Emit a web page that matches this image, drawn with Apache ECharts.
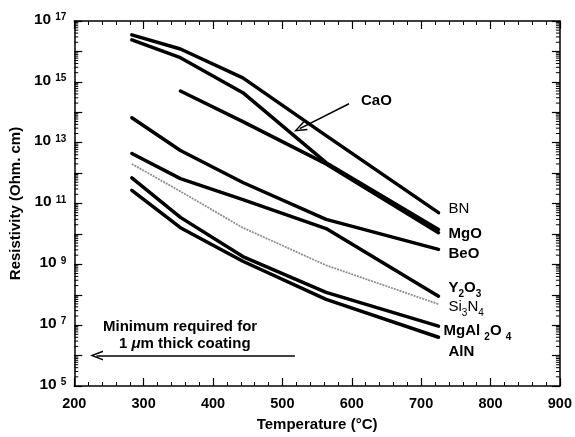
<!DOCTYPE html>
<html>
<head>
<meta charset="utf-8">
<script src="https://cdn.jsdelivr.net/npm/echarts@6/dist/echarts.min.js"></script>
<style>
    html, body { margin: 0; padding: 0; background: #fff; }
    #main { width: 575px; height: 437px; }
</style>
</head>
<body>
<div id="main"></div>
<script>
    // temperatures (°C) where the curves bend
    var temps = [283, 353, 443, 563, 725];

    // resistivity (Ohm.cm)
    var bn      = [3.5e16, 1.2e16, 1.35e15, 1.7e13, 5.0e10];
    var cao     = [2.4e16, 6.2e15, 4.4e14, 2.2e12, 1.4e10];
    var mgo     = [null, 5.0e14, 4.9e13, 2.0e12, 1.1e10];
    var beo     = [6.6e13, 5.5e12, 4.9e11, 3.0e10, 3.1e9];
    var y2o3    = [4.4e12, 6.6e11, 1.35e11, 1.5e10, 9.0e7];
    var si3n4   = [2.0e12, 2.5e11, 1.6e10, 9.3e8, 4.9e7];
    var mgal2o4 = [7.0e11, 3.5e10, 1.8e9, 1.2e8, 9.3e6];
    var aln     = [2.7e11, 1.6e10, 1.26e9, 7.0e7, 4.0e6];

    // annotation arrows [from, to] in data units
    var caoArrow = [[596, 1.9e14], [525, 2.9e13]];
    var minArrow = [[518, 1e6], [232, 1e6]];

    var xMin = 200, xMax = 900;
    var yMin = 1e5, yMax = 1e17;

    var font = "'Liberation Sans', Arial, sans-serif";

    function pairs(vals) {
        var out = [];
        for (var i = 0; i < temps.length; i++) {
            if (vals[i] != null) out.push([temps[i], vals[i]]);
        }
        return out;
    }

    // minor log ticks 2..9 in every decade
    var minorTicks = [];
    for (var e = 5; e < 17; e++) {
        for (var k = 2; k < 10; k++) {
            minorTicks.push([xMin, k * Math.pow(10, e)]);
        }
    }

    var chevron = 'path://M5,0 L10,13 L8.4,13 L5,3.8 L1.6,13 L0,13 Z';

    var subRich = {
        b: { fontFamily: font, fontSize: 15, fontWeight: 'bold', color: '#000', lineHeight: 16, verticalAlign: 'top' },
        bs: { fontFamily: font, fontSize: 10, fontWeight: 'bold', color: '#000', lineHeight: 10, verticalAlign: 'top', padding: [9, 0, 0, 0] },
        n: { fontFamily: font, fontSize: 15, color: '#000', lineHeight: 16, verticalAlign: 'top' },
        ns: { fontFamily: font, fontSize: 10, color: '#000', lineHeight: 10, verticalAlign: 'top', padding: [9, 0, 0, 0] }
    };

    function lineSeries(name, vals, label, offset, dist, style) {
        return {
            name: name,
            type: 'line',
            data: pairs(vals),
            symbol: 'none',
            silent: true,
            lineStyle: style || { color: '#000', width: 3.5, cap: 'round', join: 'round' },
            endLabel: {
                show: !!label,
                formatter: label || '',
                distance: dist,
                offset: offset,
                rich: subRich
            },
            z: 3
        };
    }

    var axisLine = { show: true, lineStyle: { color: '#000', width: 1.5 } };

    var option = {
        animation: false,
        backgroundColor: '#fff',
        grid: { left: 72, right: 8, top: 21, bottom: 50 },
        xAxis: [{
            type: 'value', position: 'bottom',
            min: xMin, max: xMax, interval: 100,
            name: 'Temperature (°C)', nameLocation: 'middle', nameGap: 31,
            nameTextStyle: { fontFamily: font, fontSize: 15, fontWeight: 'bold', color: '#000' },
            axisLine: axisLine,
            axisTick: { inside: true, length: 8, lineStyle: { color: '#000', width: 1.2 } },
            minorTick: { show: true, splitNumber: 5, length: 4, lineStyle: { color: '#000', width: 1 } },
            axisLabel: { margin: 10, fontFamily: font, fontSize: 14.5, fontWeight: 'bold', color: '#000', showMaxLabel: true },
            splitLine: { show: false }
        }, {
            type: 'value', position: 'top',
            min: xMin, max: xMax, interval: 100,
            axisLine: axisLine,
            axisTick: { inside: true, length: 8, lineStyle: { color: '#000', width: 1.2 } },
            minorTick: { show: true, splitNumber: 5, length: 4, lineStyle: { color: '#000', width: 1 } },
            axisLabel: { show: false },
            splitLine: { show: false }
        }],
        yAxis: [{
            type: 'log', logBase: 10, position: 'left',
            min: yMin, max: yMax, interval: 1,
            name: 'Resistivity (Ohm. cm)', nameLocation: 'middle', nameGap: 47,
            nameTextStyle: { fontFamily: font, fontSize: 15, fontWeight: 'bold', color: '#000' },
            axisLine: axisLine,
            axisTick: { inside: true, length: 8, lineStyle: { color: '#000', width: 1.2 } },
            axisLabel: {
                margin: 8,
                verticalAlign: 'middle',
                padding: [0, 0, 4, 0],
                formatter: function(v) {
                    var p = Math.round(Math.log(v) / Math.LN10);
                    if (p % 2 === 0) return '';
                    return '{b|10}{s|' + p + '}';
                },
                rich: {
                    b: { fontFamily: font, fontSize: 15.5, fontWeight: 'bold', color: '#000', lineHeight: 15, verticalAlign: 'top' },
                    s: { fontFamily: font, fontSize: 10, fontWeight: 'bold', color: '#000', lineHeight: 10, verticalAlign: 'top', padding: [1, 0, 0, 4] }
                }
            },
            splitLine: { show: false }
        }, {
            type: 'log', logBase: 10, position: 'right',
            min: yMin, max: yMax, interval: 1,
            axisLine: axisLine,
            axisTick: { inside: true, length: 8, lineStyle: { color: '#000', width: 1.2 } },
            axisLabel: { show: false },
            splitLine: { show: false }
        }],
        graphic: [{
            type: 'text', left: 361, top: 93,
            style: { text: 'CaO', font: 'bold 15px ' + font, fill: '#000' }
        }, {
            type: 'text', left: 103, top: 319,
            style: { text: 'Minimum required for', font: 'bold 15px ' + font, fill: '#000' }
        }, {
            type: 'text', left: 119, top: 336,
            style: {
                text: '1 {i|μ}m thick coating', font: 'bold 15px ' + font, fill: '#000',
                rich: { i: { fontFamily: font, fontSize: 15, fontWeight: 'bold', fontStyle: 'italic', color: '#000' } }
            }
        }],
        series: [
            lineSeries('BN', bn, '{n|BN}', [0, -3], 10),
            lineSeries('CaO', cao, null, [0, 0], 5),
            lineSeries('MgO', mgo, '{b|MgO}', [0, 2], 10),
            lineSeries('BeO', beo, '{b|BeO}', [0, 5], 10),
            lineSeries('Y2O3', y2o3, '{b|Y}{bs|2}{b|O}{bs|3}', [0, -8], 10),
            lineSeries('Si3N4', si3n4, '{n|Si}{ns|3}{n|N}{ns|4}', [0, 3], 10,
                { color: '#8f8f8f', width: 1.8, type: [2, 1] }),
            lineSeries('MgAl2O4', mgal2o4, '{b|MgAl }{bs|2}{b|O }{bs|4}', [0, 5], 5),
            lineSeries('AlN', aln, '{b|AlN}', [0, 15], 10),
            {
                name: 'notes',
                type: 'line',
                data: [],
                markLine: {
                    silent: true,
                    symbol: ['none', chevron],
                    symbolSize: [10, 13],
                    label: { show: false },
                    lineStyle: { color: '#000', width: 1.5, type: 'solid' },
                    data: [
                        [{ coord: caoArrow[0] }, { coord: caoArrow[1] }],
                        [{ coord: minArrow[0] }, { coord: minArrow[1] }]
                    ]
                }
            },
            {
                name: 'minor',
                type: 'custom',
                silent: true,
                clip: false,
                data: minorTicks,
                renderItem: function(params, api) {
                    var l = api.coord([xMin, api.value(1)]);
                    var r = api.coord([xMax, api.value(1)]);
                    return {
                        type: 'group',
                        children: [
                            { type: 'line', shape: { x1: l[0], y1: l[1], x2: l[0] + 4, y2: l[1] }, style: { stroke: '#000', lineWidth: 1 } },
                            { type: 'line', shape: { x1: r[0], y1: r[1], x2: r[0] - 4, y2: r[1] }, style: { stroke: '#000', lineWidth: 1 } }
                        ]
                    };
                }
            }
        ]
    };

    var chart = echarts.init(document.getElementById('main'));
    chart.setOption(option);
</script>
</body>
</html>
